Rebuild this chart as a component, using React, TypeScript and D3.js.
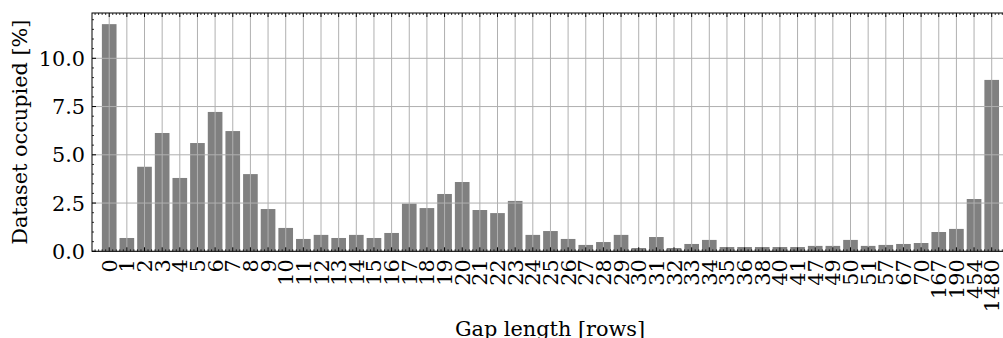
import React from "react";
import * as d3 from "d3";

const categories: string[] = [
  "0","1","2","3","4","5","6","7","8","9","10","11","12","13","14","15","16","17","18","19",
  "20","21","22","23","24","25","26","27","28","29","30","31","32","33","34","35","36","38","40","41",
  "47","49","50","51","57","67","70","167","190","454","1480",
];
const values: number[] = [
  11.77, 0.69, 4.38, 6.13, 3.80, 5.61, 7.22, 6.23, 4.00, 2.19, 1.21, 0.64, 0.85, 0.69, 0.85, 0.69, 0.95, 2.47, 2.24, 2.97,
  3.59, 2.14, 1.98, 2.61, 0.85, 1.05, 0.64, 0.33, 0.48, 0.85, 0.17, 0.74, 0.17, 0.38, 0.59, 0.22, 0.22, 0.22, 0.22, 0.22,
  0.28, 0.28, 0.59, 0.28, 0.33, 0.38, 0.43, 1.00, 1.16, 2.71, 8.88,
];
const yTicks: number[] = [0, 2.5, 5, 7.5, 10];
const xLabel = "Gap length [rows]";
const yLabel = "Dataset occupied [%]";

const W = 1003;
const H = 338;
const FONT = "'DejaVu Serif', serif";
const FS = 20.8;

export default function App() {
  const left = 92;
  const top = 13;
  const bottom = 251.3;
  const n = categories.length;
  const x = d3.scaleLinear().domain([-0.975, n - 1 + 0.975]).range([left, left + 17.65 * (n - 1 + 1.95)]);
  const right = x(n - 1 + 0.975);
  const y = d3.scaleLinear().domain([0, (bottom - top) / 19.3]).range([bottom, top]);
  const barW = 0.83;
  const idx = d3.range(n);
  const yMinor = d3.range(0, y.domain()[1], 0.5).filter((v) => !yTicks.includes(v));
  const xMinor: number[] = [];
  for (let i = -1; i < n; i++) {
    for (let k = 1; k < 5; k++) {
      const v = i + k / 5;
      if (v > x.domain()[0] && v < x.domain()[1]) xMinor.push(v);
    }
  }
  const grid = "#b0b0b0";
  return (
    <svg width={W} height={H} style={{ position: "absolute", left: 0, top: 0, background: "#fff" }}>
      {idx.map((i) => (
        <rect key={i} x={x(i - barW / 2)} width={x(barW) - x(0)} y={y(values[i])} height={y(0) - y(values[i])} fill="#808080" />
      ))}
      {idx.map((i) => (
        <line key={"gx" + i} x1={x(i)} x2={x(i)} y1={top} y2={bottom} stroke={grid} strokeWidth={1} />
      ))}
      {yTicks.map((t) => (
        <line key={"gy" + t} x1={left} x2={right} y1={y(t)} y2={y(t)} stroke={grid} strokeWidth={1} />
      ))}
      <rect x={left} y={top} width={right - left} height={bottom - top} fill="none" stroke="#000" strokeWidth={1} />
      {idx.map((i) => (
        <g key={"xt" + i}>
          <line x1={x(i)} x2={x(i)} y1={bottom} y2={bottom - 4} stroke="#000" />
          <line x1={x(i)} x2={x(i)} y1={top} y2={top + 4} stroke="#000" />
        </g>
      ))}
      {xMinor.map((v, j) => (
        <g key={"xm" + j}>
          <line x1={x(v)} x2={x(v)} y1={bottom} y2={bottom - 2} stroke="#000" strokeWidth={0.8} />
          <line x1={x(v)} x2={x(v)} y1={top} y2={top + 2} stroke="#000" strokeWidth={0.8} />
        </g>
      ))}
      {yTicks.map((t) => (
        <line key={"yt" + t} x1={left} x2={left + 4} y1={y(t)} y2={y(t)} stroke="#000" />
      ))}
      {yMinor.map((t) => (
        <line key={"ym" + t} x1={left} x2={left + 2} y1={y(t)} y2={y(t)} stroke="#000" strokeWidth={0.8} />
      ))}
      {yTicks.map((t) => (
        <text key={"yl" + t} x={left - 7} y={y(t)} dy="0.36em" textAnchor="end" fontFamily={FONT} fontSize={FS} fill="#000">
          {d3.format(".1f")(t)}
        </text>
      ))}
      {idx.map((i) => (
        <text key={"xl" + i} transform={`translate(${x(i)},${bottom + 8}) rotate(-90)`} dy="0.36em" textAnchor="end" fontFamily={FONT} fontSize={FS} fill="#000">
          {categories[i]}
        </text>
      ))}
      <text x={550} y={336} textAnchor="middle" fontFamily={FONT} fontSize={FS} fill="#000">{xLabel}</text>
      <text transform={`translate(27,${(top + bottom) / 2 + 0}) rotate(-90)`} textAnchor="middle" fontFamily={FONT} fontSize={FS} fill="#000">{yLabel}</text>
    </svg>
  );
}
